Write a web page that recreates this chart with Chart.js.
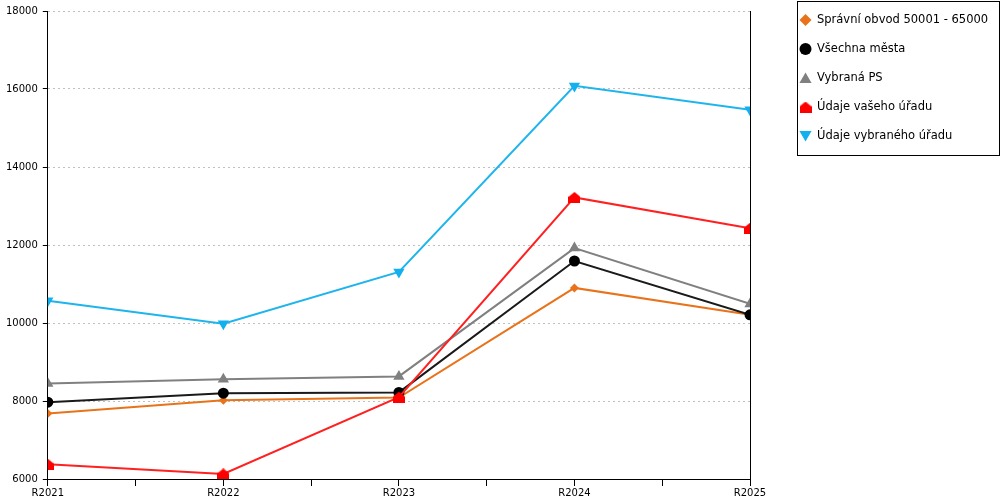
<!DOCTYPE html>
<html>
<head>
<meta charset="utf-8">
<script src="https://cdn.jsdelivr.net/npm/chart.js@4/dist/chart.umd.min.js"></script>
<style>
  body { margin: 0; background: #fff; }
  #wrap { width: 1000px; height: 500px; position: relative; }
</style>
</head>
<body>
<div id="wrap"><canvas id="chart"></canvas></div>
<script>
const categories = ['R2021', 'R2022', 'R2023', 'R2024', 'R2025'];
const obvod = [7680, 8020, 8090, 10900, 10210];     // Správní obvod 50001 - 65000
const mesta = [7970, 8200, 8220, 11590, 10210];     // Všechna města
const vybranaPS = [8450, 8560, 8630, 11920, 10490]; // Vybraná PS
const vasUrad = [6380, 6130, 8100, 13220, 12430];   // Údaje vašeho úřadu
const vybranyUrad = [10570, 9980, 11310, 16080, 15470]; // Údaje vybraného úřadu
const yTicks = [6000, 8000, 10000, 12000, 14000, 16000, 18000];

Chart.defaults.font.family = '"DejaVu Sans", sans-serif';
Chart.defaults.font.size = 10;
Chart.defaults.color = '#000';

// house shaped marker for "Údaje vašeho úřadu"
function houseMarker(w, h, color) {
    const c = document.createElement('canvas');
    c.width = w; c.height = h;
    const g = c.getContext('2d');
    g.fillStyle = color;
    g.beginPath();
    g.moveTo(w / 2, 0);
    g.lineTo(w, h * 0.45);
    g.lineTo(w, h);
    g.lineTo(0, h);
    g.lineTo(0, h * 0.45);
    g.closePath();
    g.fill();
    return c;
}
const house = houseMarker(12, 11, '#ff0000');

function pts(values) {
    return values.map((v, i) => ({ x: i, y: v }));
}

const series = [
    { label: 'Správní obvod 50001 - 65000', values: obvod, color: '#e8731a', style: 'rectRot', radius: 4.5, rot: 0 },
    { label: 'Všechna města', values: mesta, color: '#000000', line: '#1a1a1a', style: 'circle', radius: 5.5, rot: 0 },
    { label: 'Vybraná PS', values: vybranaPS, color: '#808080', style: 'triangle', radius: 6.5, rot: 0 },
    { label: 'Údaje vašeho úřadu', values: vasUrad, color: '#ff0000', line: '#ff2020', style: house, radius: 6, rot: 0 },
    { label: 'Údaje vybraného úřadu', values: vybranyUrad, color: '#12b0ee', line: '#1eb4ec', style: 'triangle', radius: 6.5, rot: 180 }
];

const legendBox = {
    id: 'legendBox',
    afterDraw(chart) {
        const ctx = chart.ctx;
        const area = chart.chartArea;
        ctx.save();
        // right border of the plot
        ctx.strokeStyle = '#000';
        ctx.lineWidth = 1;
        ctx.beginPath();
        ctx.moveTo(Math.round(area.right) + 0.5, area.top);
        ctx.lineTo(Math.round(area.right) + 0.5, area.bottom);
        ctx.stroke();

        // legend
        ctx.strokeRect(797.5, 1.5, 202, 154);
        ctx.font = '11.5px "DejaVu Sans", sans-serif';
        ctx.textBaseline = 'middle';
        ctx.textAlign = 'left';
        series.forEach((s, i) => {
            const y = 20 + i * 29;
            ctx.fillStyle = s.color;
            ctx.strokeStyle = s.color;
            const r = s.style === 'rectRot' ? 6 : (s.style === 'circle' ? 6 : 7);
            Chart.helpers.drawPoint(ctx, { pointStyle: s.style, rotation: s.rot, radius: r, borderWidth: 0 }, 805.5, y + (s.style === 'triangle' && !s.rot ? 1.5 : (s.rot ? -1.5 : 0)));
            ctx.fillStyle = '#000';
            ctx.fillText(s.label, 817, y);
        });
        ctx.restore();
    }
};

new Chart(document.getElementById('chart'), {
    type: 'line',
    data: {
        datasets: series.map((s, i) => ({
            label: s.label,
            data: pts(s.values),
            borderColor: s.line || s.color,
            backgroundColor: s.color,
            borderWidth: 2,
            tension: 0,
            pointStyle: s.style,
            pointRadius: s.radius,
            pointHoverRadius: s.radius,
            pointRotation: s.rot,
            pointBorderWidth: 0,
            pointBackgroundColor: s.color,
            order: series.length - i
        }))
    },
    options: {
        responsive: true,
        maintainAspectRatio: false,
        animation: false,
        layout: { padding: { left: 1, top: 4, right: 250, bottom: 0 } },
        plugins: {
            legend: { display: false },
            tooltip: { enabled: false }
        },
        scales: {
            x: {
                type: 'linear',
                min: 0,
                max: categories.length - 1,
                afterBuildTicks: (axis) => {
                    const t = [];
                    for (let v = 0; v <= categories.length - 1; v += 0.5) t.push({ value: v });
                    axis.ticks = t;
                },
                ticks: {
                    autoSkip: false,
                    maxRotation: 0,
                    padding: 1,
                    callback: (v) => Number.isInteger(v) ? categories[v] : ''
                },
                grid: {
                    drawOnChartArea: false,
                    tickLength: 7,
                    tickColor: '#000'
                },
                border: { color: '#000', width: 1 }
            },
            y: {
                min: 6000,
                max: 18000,
                afterBuildTicks: (axis) => {
                    axis.ticks = yTicks.map(v => ({ value: v }));
                },
                ticks: {
                    padding: 5,
                    callback: (v) => String(v)
                },
                grid: {
                    color: '#c0c0c0',
                    lineWidth: 1,
                    tickBorderDash: [],
                    tickLength: 5,
                    tickColor: '#000'
                },
                border: { color: '#000', width: 1, dash: [2, 3] }
            }
        }
    },
    plugins: [legendBox]
});
</script>
</body>
</html>
